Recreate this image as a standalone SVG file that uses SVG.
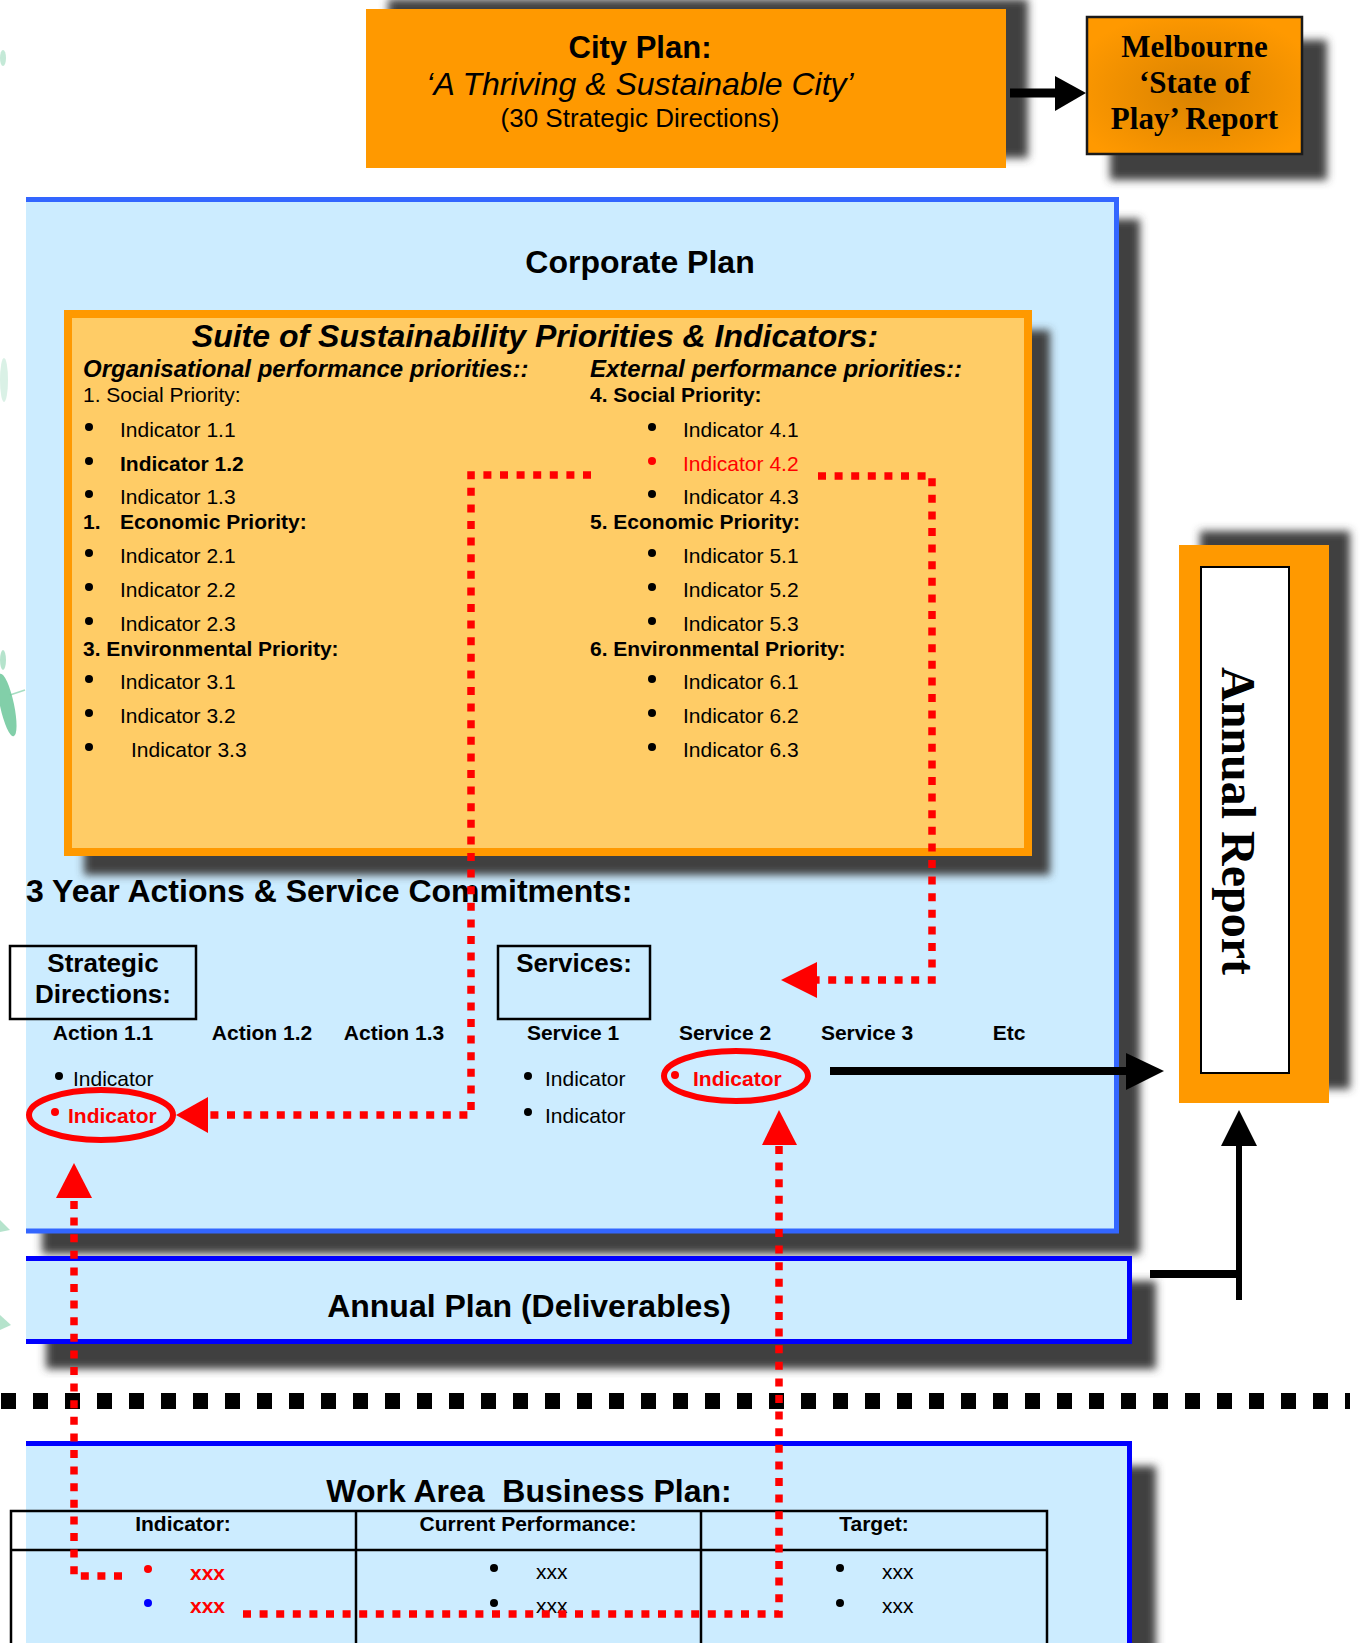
<svg xmlns="http://www.w3.org/2000/svg" width="1360" height="1643" viewBox="0 0 1360 1643">
<defs>
<style>
.t{font-family:'Liberation Sans',Arial,sans-serif;fill:#000}
.sf{font-family:'Liberation Serif','Times New Roman',serif;font-weight:bold;fill:#000}
.b{font-weight:bold}
.i{font-style:italic}
.m{text-anchor:middle}
.f21{font-size:21px}
.f24{font-size:24px}
.f26{font-size:26px}
.f32{font-size:32px}
.red{fill:#FF0000}
.shd{fill:#404040;filter:url(#blur)}
.rd{fill:none;stroke:#FF0000;stroke-width:7.5;stroke-dasharray:8 8.6}
.ah{fill:#FF0000}
.bk{fill:#000}
</style>
<filter id="blur" x="-10%" y="-10%" width="120%" height="120%"><feGaussianBlur stdDeviation="4"/></filter>
<radialGradient id="mg" cx="0.5" cy="0.55" r="0.6"><stop offset="0" stop-color="#DA8300"/><stop offset="0.65" stop-color="#F29100"/><stop offset="1" stop-color="#FF9900"/></radialGradient>
<clipPath id="cl"><rect x="26" y="0" width="1334" height="1643"/></clipPath>
</defs>
<rect width="1360" height="1643" fill="#fff"/>

<g id="background-leaves" fill="#6CC79A">
<ellipse cx="3" cy="58" rx="3" ry="8" opacity="0.4"/>
<ellipse cx="4" cy="380" rx="4" ry="22" opacity="0.25"/>
<ellipse cx="7" cy="705" rx="7" ry="32" transform="rotate(-12 7 705)" opacity="0.85"/>
<path d="M10,695 L25,690" stroke="#6CC79A" stroke-width="1.5" opacity="0.6"/>
<ellipse cx="3" cy="660" rx="3" ry="10" opacity="0.5"/>
<path d="M0,1220 L10,1230 L0,1232 Z" opacity="0.5"/>
<path d="M0,1315 L11,1325 L0,1330 Z" opacity="0.5"/>
</g>

<g id="city-plan">
<rect class="shd" x="388" y="-1" width="640" height="159"/>
<rect x="366" y="9" width="640" height="159" fill="#FF9900"/>
<text class="t b f32 m" x="640" y="58" style="font-size:31px">City Plan:</text>
<text class="t i f32 m" x="640" y="95">‘A Thriving &amp; Sustainable City’</text>
<text class="t f26 m" x="640" y="127">(30 Strategic Directions)</text>
</g>

<g id="state-of-play">
<rect class="shd" x="1110" y="40" width="217" height="140"/>
<rect x="1087" y="17" width="215" height="137" fill="url(#mg)" stroke="#1a1a1a" stroke-width="2.5"/>
<text class="sf m" x="1194.5" y="57" font-size="31">Melbourne</text>
<text class="sf m" x="1194.5" y="93" font-size="31">‘State of</text>
<text class="sf m" x="1194.5" y="129" font-size="31">Play’ Report</text>
</g>

<g id="corporate-plan">
<rect class="shd" x="42" y="219" width="1098" height="1035" clip-path="url(#cl)"/>
<rect x="26" y="197" width="1093" height="1036" fill="#CCECFF"/>
<path d="M26,199.5 H1116.5 V1231 H26" fill="none" stroke="#3366FF" stroke-width="5"/>
<text class="t b f32 m" x="640" y="273">Corporate Plan</text>
</g>

<g id="suite">
<rect class="shd" x="84" y="330" width="966" height="545"/>
<rect x="68" y="314" width="960" height="538" fill="#FFCC66" stroke="#FF9900" stroke-width="8"/>
<text class="t b i f32 m" x="535" y="347">Suite of Sustainability Priorities &amp; Indicators:</text>
<text class="t b i f24" x="83" y="377">Organisational performance priorities::</text>
<text class="t f21" x="83" y="402">1. Social Priority:</text>
<text class="t f21" x="120" y="437">Indicator 1.1</text>
<text class="t b f21" x="120" y="471">Indicator 1.2</text>
<text class="t f21" x="120" y="504">Indicator 1.3</text>
<text class="t b f21" x="83" y="529">1.</text>
<text class="t b f21" x="120" y="529">Economic Priority:</text>
<text class="t f21" x="120" y="563">Indicator 2.1</text>
<text class="t f21" x="120" y="597">Indicator 2.2</text>
<text class="t f21" x="120" y="631">Indicator 2.3</text>
<text class="t b f21" x="83" y="656">3. Environmental Priority:</text>
<text class="t f21" x="120" y="689">Indicator 3.1</text>
<text class="t f21" x="120" y="723">Indicator 3.2</text>
<text class="t f21" x="131" y="757">Indicator 3.3</text>
<g class="bk">
<circle cx="89" cy="427" r="4"/><circle cx="89" cy="461" r="4"/><circle cx="89" cy="494" r="4"/>
<circle cx="89" cy="553" r="4"/><circle cx="89" cy="587" r="4"/><circle cx="89" cy="621" r="4"/>
<circle cx="89" cy="679" r="4"/><circle cx="89" cy="713" r="4"/><circle cx="89" cy="747" r="4"/>
<circle cx="652" cy="427" r="4"/><circle cx="652" cy="494" r="4"/>
<circle cx="652" cy="553" r="4"/><circle cx="652" cy="587" r="4"/><circle cx="652" cy="621" r="4"/>
<circle cx="652" cy="679" r="4"/><circle cx="652" cy="713" r="4"/><circle cx="652" cy="747" r="4"/>
</g>
<circle cx="652" cy="461" r="4" fill="#FF0000"/>
<text class="t b i f24" x="590" y="377">External performance priorities::</text>
<text class="t b f21" x="590" y="402">4. Social Priority:</text>
<text class="t f21" x="683" y="437">Indicator 4.1</text>
<text class="t f21 red" x="683" y="471">Indicator 4.2</text>
<text class="t f21" x="683" y="504">Indicator 4.3</text>
<text class="t b f21" x="590" y="529">5. Economic Priority:</text>
<text class="t f21" x="683" y="563">Indicator 5.1</text>
<text class="t f21" x="683" y="597">Indicator 5.2</text>
<text class="t f21" x="683" y="631">Indicator 5.3</text>
<text class="t b f21" x="590" y="656">6. Environmental Priority:</text>
<text class="t f21" x="683" y="689">Indicator 6.1</text>
<text class="t f21" x="683" y="723">Indicator 6.2</text>
<text class="t f21" x="683" y="757">Indicator 6.3</text>
</g>

<g id="three-year">
<text class="t b f32" x="26" y="902">3 Year Actions &amp; Service Commitments:</text>
</g>

<g id="strategic-directions">
<rect x="10" y="946" width="186" height="73" fill="none" stroke="#000" stroke-width="2.5"/>
<text class="t b f26 m" x="103" y="972">Strategic</text>
<text class="t b f26 m" x="103" y="1003">Directions:</text>
<text class="t b f21 m" x="103" y="1040">Action 1.1</text>
<text class="t b f21 m" x="262" y="1040">Action 1.2</text>
<text class="t b f21 m" x="394" y="1040">Action 1.3</text>
<circle cx="59" cy="1076" r="4" fill="#000"/>
<text class="t f21" x="73" y="1086">Indicator</text>
<circle cx="55" cy="1112" r="4" fill="#FF0000"/>
<text class="t b f21 red" x="68" y="1123">Indicator</text>
<ellipse cx="101" cy="1115" rx="72" ry="25" fill="none" stroke="#FF0000" stroke-width="6"/>
</g>

<g id="services">
<rect x="498" y="946" width="152" height="73" fill="none" stroke="#000" stroke-width="2.5"/>
<text class="t b f26 m" x="574" y="972">Services:</text>
<text class="t b f21 m" x="573" y="1040">Service 1</text>
<text class="t b f21 m" x="725" y="1040">Service 2</text>
<text class="t b f21 m" x="867" y="1040">Service 3</text>
<text class="t b f21 m" x="1009" y="1040">Etc</text>
<circle cx="528" cy="1076" r="4" fill="#000"/>
<text class="t f21" x="545" y="1086">Indicator</text>
<circle cx="528" cy="1112" r="4" fill="#000"/>
<text class="t f21" x="545" y="1123">Indicator</text>
<circle cx="675" cy="1075" r="4" fill="#FF0000"/>
<text class="t b f21 red" x="693" y="1086">Indicator</text>
<ellipse cx="736" cy="1076" rx="72" ry="25" fill="none" stroke="#FF0000" stroke-width="6"/>
</g>

<g id="annual-plan">
<rect class="shd" x="46" y="1281" width="1110" height="88" clip-path="url(#cl)"/>
<rect x="26" y="1256" width="1106" height="88" fill="#CCECFF"/>
<path d="M26,1258.5 H1129.5 V1341.5 H26" fill="none" stroke="#0000FF" stroke-width="5"/>
<text class="t b f32 m" x="529" y="1317">Annual Plan (Deliverables)</text>
</g>

<g id="separator">
<line x1="1" y1="1401" x2="1350" y2="1401" stroke="#000" stroke-width="16" stroke-dasharray="15 17"/>
</g>

<g id="work-area">
<rect class="shd" x="46" y="1466" width="1110" height="220" clip-path="url(#cl)"/>
<rect x="26" y="1441" width="1106" height="210" fill="#CCECFF"/>
<path d="M26,1443.5 H1129.5 V1650" fill="none" stroke="#0000FF" stroke-width="5"/>
<text class="t b f32 m" x="529" y="1502" xml:space="preserve">Work Area  Business Plan:</text>
<g fill="none" stroke="#000" stroke-width="2.5">
<path d="M11,1650 V1511 H1047 V1650"/>
<path d="M11,1550 H1047"/>
<path d="M356,1511 V1650"/>
<path d="M701,1511 V1650"/>
</g>
<text class="t b f21 m" x="183" y="1531">Indicator:</text>
<text class="t b f21 m" x="528" y="1531">Current Performance:</text>
<text class="t b f21 m" x="874" y="1531">Target:</text>
<circle cx="148" cy="1569" r="4" fill="#FF0000"/>
<text class="t b f21 red" x="190" y="1580">xxx</text>
<circle cx="148" cy="1603" r="4" fill="#0000FF"/>
<text class="t b f21 red" x="190" y="1613">xxx</text>
<circle cx="494" cy="1568" r="4" fill="#000"/>
<text class="t f21" x="536" y="1579">xxx</text>
<circle cx="494" cy="1603" r="4" fill="#000"/>
<text class="t f21" x="536" y="1613">xxx</text>
<circle cx="840" cy="1568" r="4" fill="#000"/>
<text class="t f21" x="882" y="1579">xxx</text>
<circle cx="840" cy="1603" r="4" fill="#000"/>
<text class="t f21" x="882" y="1613">xxx</text>
</g>

<g id="annual-report">
<rect class="shd" x="1200" y="531" width="150" height="558"/>
<rect x="1179" y="545" width="150" height="558" fill="#FF9900"/>
<rect x="1201" y="567" width="88" height="506" fill="#fff" stroke="#000" stroke-width="2"/>
<text class="sf m" font-size="48" transform="translate(1222,821) rotate(90)">Annual Report</text>
</g>

<g id="connectors">
<path class="rd" d="M591,475 H471 V1115 H208"/>
<polygon class="ah" points="176,1115 208,1097 208,1133"/>
<path class="rd" d="M818,476 H932 V980 H816"/>
<polygon class="ah" points="781,980 817,962 817,998"/>
<path class="rd" d="M122,1576 H74 V1197"/>
<polygon class="ah" points="74,1163 56,1198 92,1198"/>
<path class="rd" d="M243,1614 H779 V1144"/>
<polygon class="ah" points="779,1110 762,1145 797,1145"/>
<line x1="1010" y1="93" x2="1057" y2="93" stroke="#000" stroke-width="9"/>
<polygon class="bk" points="1055,76 1086,93 1055,111"/>
<line x1="830" y1="1071" x2="1128" y2="1071" stroke="#000" stroke-width="8"/>
<polygon class="bk" points="1126,1053 1164,1071 1126,1090"/>
<path d="M1150,1274 H1242" stroke="#000" stroke-width="8" fill="none"/>
<path d="M1239,1300 V1143" stroke="#000" stroke-width="6" fill="none"/>
<polygon class="bk" points="1221,1146 1239,1110 1257,1146"/>
</g>
</svg>
